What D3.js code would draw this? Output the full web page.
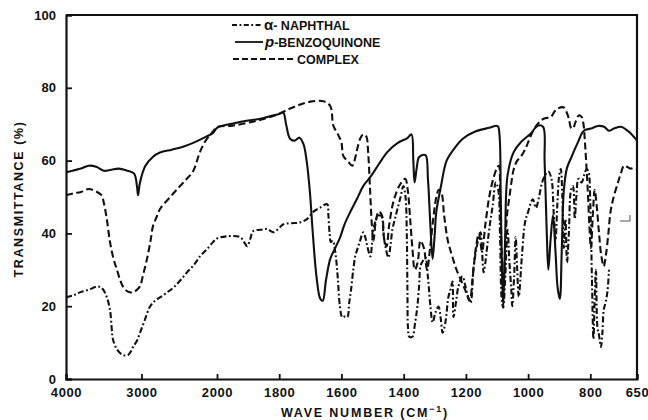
<!DOCTYPE html>
<html>
<head>
<meta charset="utf-8">
<script src="https://cdn.jsdelivr.net/npm/d3@7"></script>
<style>
  body { margin: 0; background: #fff; }
  text { font-family: "Liberation Sans", Arial, sans-serif; fill: #111; }
</style>
</head>
<body>
<div id="chart"></div>
<script>
// wave number (cm-1), transmittance (%)
var naphthol = [[4000,22.4],[3900,23],[3815,23.8],[3700,24.5],[3590,25.4],[3540,25.2],[3510,24.6],[3460,22.5],[3417,19],[3395,14],[3377,10.8],[3320,8],[3245,6.6],[3180,6.6],[3140,7.6],[3113,8.8],[3060,10.5],[3020,12.7],[2960,16],[2887,19.9],[2820,21.5],[2755,22.4],[2660,23.8],[2583,25],[2490,27],[2397,29.3],[2300,31.5],[2225,33.7],[2140,35.5],[2053,37.6],[2000,38.6],[1968,39.2],[1926,39],[1912,37.5],[1903,36.5],[1893,38.5],[1884,40.6],[1860,41],[1839,41.2],[1819,40.3],[1800,41.5],[1787,42.5],[1760,42.8],[1733,43],[1710,44],[1691,45.9],[1670,47],[1646,48],[1642,45],[1638,40],[1634,37.6],[1628,38],[1620,35],[1612,28],[1605,20],[1597,16.9],[1588,17.2],[1581,17],[1575,21],[1569,24.6],[1562,30],[1555,34],[1549,35.6],[1540,38],[1530,40.3],[1522,38.5],[1517,36.5],[1507,33.7],[1502,37],[1497,41.2],[1490,43.5],[1484,44.8],[1472,44.8],[1465,40],[1459,36.5],[1449,33.4],[1442,37],[1436,41.2],[1428,44],[1420,46.7],[1410,50],[1401,53],[1394,50],[1390,40],[1388,25],[1386,14],[1382,11.6],[1372,11.6],[1364,15],[1356,19.9],[1350,26],[1346,31],[1338,32.5],[1330,33.4],[1322,28],[1314,20],[1307,15.5],[1298,18.2],[1288,19.9],[1280,16],[1275,12.7],[1266,15.5],[1256,22.6],[1248,25],[1243,26.8],[1240,17],[1232,21],[1224,25.4],[1211,28.2],[1203,26],[1195,23.2],[1185,21],[1175,31],[1162,37.6],[1153,40.3],[1148,35],[1143,29.3],[1136,33],[1130,37.6],[1122,43],[1114,47.5],[1104,54],[1096,52],[1090,38],[1085,22],[1080,19.6],[1074,27],[1066,41],[1060,32],[1054,24.6],[1051,20],[1045,28],[1040,39],[1035,30],[1030,22.6],[1020,33.7],[1010,43],[1000,45.9],[985,49.4],[975,47],[965,50],[955,54],[945,56],[935,57],[925,55],[918,46],[912,38],[906,48],[900,56],[895,57.7],[890,50],[885,36],[880,44],[875,32],[869,40],[862,52],[856,53],[850,44],[845,50],[838,55],[828,54],[820,56],[812,57.7],[806,57],[800,48],[795,28],[790,11],[786,22],[782,30],[777,14],[772,12],[766,8.8],[761,13],[757,19],[751,21],[745,24],[740,30]];

var benzoquinone = [[4000,56.8],[3900,57.3],[3800,57.8],[3700,58.6],[3600,58.3],[3500,57.2],[3400,57.5],[3300,57.8],[3200,57.3],[3100,56.5],[3060,53],[3046,50.5],[3020,54],[2950,58.5],[2850,61],[2755,62.2],[2600,63],[2450,63.8],[2300,65],[2150,66.5],[2053,67.6],[2000,69],[1942,70.3],[1900,71],[1861,71.5],[1830,72.2],[1800,72.8],[1787,73.2],[1778,70],[1765,66],[1750,65.5],[1735,66.3],[1722,64.5],[1712,60],[1702,52],[1692,40],[1680,28],[1668,22],[1660,21.5],[1650,27],[1636,33],[1620,36],[1604,39],[1590,42.5],[1571,46],[1550,49.5],[1530,53],[1507,55.5],[1480,59],[1452,62.4],[1420,64.8],[1388,66.2],[1375,67.2],[1369,60],[1365,54],[1358,58],[1350,61],[1330,61.5],[1322,55],[1314,42],[1307,33],[1300,40],[1295,46],[1280,53],[1262,60],[1240,63],[1210,66],[1170,68],[1125,69],[1098,69.5],[1092,67],[1088,50],[1084,30],[1080,20],[1074,38],[1066,56],[1046,62.4],[1024,65],[992,67.4],[969,69.6],[952,69.3],[947,60],[940,40],[935,30],[928,38],[920,45],[912,35],[905,25],[898,22],[892,35],[885,52],[875,58],[863,60.5],[840,65],[821,68.2],[798,68.8],[776,69.5],[756,69.3],[740,68.2],[724,68.8],[701,69.3],[685,68.5],[669,67.4],[650,65.5]];

var complex = [[4000,50.5],[3900,51],[3800,51.4],[3700,52.2],[3600,51.5],[3530,50.5],[3500,48.5],[3460,44],[3417,37.6],[3370,33],[3325,30],[3280,27],[3245,25.4],[3180,24],[3113,23.8],[3060,24.5],[3020,25.5],[2980,28.5],[2927,33],[2880,38],[2848,42],[2800,44.5],[2755,46.7],[2620,50],[2490,53],[2400,55],[2318,57],[2225,62.4],[2150,65.5],[2093,67],[2053,68],[2000,69.2],[1950,69.6],[1884,70.7],[1829,72],[1797,73],[1765,74.3],[1733,75.4],[1700,76.2],[1658,76.3],[1636,75],[1626,69.6],[1610,67],[1600,65],[1594,61.3],[1578,59.7],[1565,58.6],[1555,61],[1549,63.3],[1540,66],[1530,67.2],[1520,66.6],[1514,62],[1508,52],[1502,42],[1497,38],[1490,43],[1480,46],[1470,45],[1462,38],[1455,36.5],[1447,42],[1435,48],[1420,52],[1407,54],[1395,55],[1387,52],[1380,45],[1372,36],[1364,30],[1355,32],[1346,38],[1335,36],[1325,30],[1315,36],[1305,44],[1295,50],[1287,52],[1278,51],[1270,45],[1258,38],[1245,34],[1230,30],[1215,27],[1200,24],[1188,21.5],[1178,28],[1168,36],[1158,40],[1148,35],[1138,42],[1125,50],[1112,55],[1100,58],[1094,58.6],[1090,50],[1085,35],[1080,26],[1075,32],[1068,45],[1060,50],[1052,55],[1046,57.7],[1035,60],[1024,61],[1010,63],[1000,65],[985,68],[970,70],[950,71.5],[927,72],[915,73.5],[905,74.3],[885,74.6],[875,73],[869,71.5],[862,69],[856,68.8],[848,70.5],[837,72.4],[828,72],[822,70],[818,66],[814,60.5],[808,51.4],[803,42],[798,36],[792,45],[786,52],[780,48],[772,40],[765,34],[757,31],[750,34],[742,40],[735,46],[725,50],[711,54],[700,57],[692,58.6],[680,58.2],[670,57.8],[660,58],[650,57.7]];

var xTicks = [4000, 3000, 2000, 1800, 1600, 1400, 1200, 1000, 800, 650];
var yTicks = [0, 20, 40, 60, 80, 100];

var width = 648, height = 420;

var svg = d3.select("#chart").append("svg")
    .attr("width", width)
    .attr("height", height);

// grating change at 2000 cm-1 -> two linear pieces
var x = d3.scaleLinear().domain([4000, 2000, 650]).range([66, 217, 637]);
var y = d3.scaleLinear().domain([0, 100]).range([379, 15]);

var xAxis = svg.append("g")
    .attr("transform", "translate(0," + y(0) + ")")
    .call(d3.axisBottom(x).tickValues(xTicks).tickSize(-5).tickPadding(9).tickFormat(d3.format("d")));
var yAxis = svg.append("g")
    .attr("transform", "translate(" + x(4000) + ",0)")
    .call(d3.axisLeft(y).tickValues(yTicks).tickSize(-6).tickPadding(10));

[xAxis, yAxis].forEach(function (a) {
    a.select(".domain").attr("stroke", "#111").attr("stroke-width", 2.2);
    a.selectAll(".tick line").attr("stroke", "#111").attr("stroke-width", 1.8);
    a.selectAll(".tick text")
        .style("font-family", "'Liberation Sans', Arial, sans-serif")
        .style("font-size", "13px")
        .style("font-weight", "bold")
        .attr("fill", "#111");
});
xAxis.selectAll(".tick text").attr("letter-spacing", "0.6px");

// top and right frame
svg.append("path")
    .attr("d", "M" + x(4000) + "," + y(100) + "H" + x(650) + "V" + y(0))
    .attr("fill", "none")
    .attr("stroke", "#111")
    .attr("stroke-width", 2.2);

var line = d3.line()
    .x(function (d) { return x(d[0]); })
    .y(function (d) { return y(d[1]); })
    .curve(d3.curveCatmullRom.alpha(0.5));

var series = [
    { data: benzoquinone, dash: null },
    { data: complex, dash: "7,3.5" },
    { data: naphthol, dash: "6,2.5,1.8,2.5" }
];

svg.selectAll(".spec")
    .data(series)
    .enter().append("path")
    .attr("class", "spec")
    .attr("d", function (d) { return line(d.data); })
    .attr("fill", "none")
    .attr("stroke", "#111")
    .attr("stroke-width", 2.1)
    .attr("stroke-linejoin", "round")
    .attr("stroke-dasharray", function (d) { return d.dash; });

// little mark on right side
svg.append("path")
    .attr("d", "M620,221H630V215")
    .attr("fill", "none")
    .attr("stroke", "#555")
    .attr("stroke-width", 1);

// legend
var legend = [
    { sym: "\u03b1", name: "- NAPHTHAL", dash: "5,2.5,1.8,2.5", y: 25, x0: 232, x1: 262 },
    { sym: "p", name: "-BENZOQUINONE", dash: null, y: 42, x0: 235, x1: 263 },
    { sym: "", name: "COMPLEX", dash: "6,3", y: 59, x0: 233, x1: 294 }
];
var lg = svg.selectAll(".lg").data(legend).enter().append("g").attr("class", "lg");
lg.append("line")
    .attr("x1", function (d) { return d.x0; })
    .attr("x2", function (d) { return d.x1; })
    .attr("y1", function (d) { return d.y; })
    .attr("y2", function (d) { return d.y; })
    .attr("stroke", "#111")
    .attr("stroke-width", 1.8)
    .attr("stroke-dasharray", function (d) { return d.dash; });
var lt = lg.append("text")
    .attr("x", function (d) { return d.sym ? d.x1 + 2 : d.x1 + 3; })
    .attr("y", function (d) { return d.y + 5; })
    .style("font-size", "12.5px")
    .style("font-weight", "bold");
lt.append("tspan")
    .text(function (d) { return d.sym; })
    .style("font-size", "15px")
    .style("font-style", function (d) { return d.sym === "p" ? "italic" : "normal"; });
lt.append("tspan")
    .text(function (d) { return d.name; });

// axis titles
svg.append("text")
    .attr("transform", "translate(23,199) rotate(-90)")
    .attr("text-anchor", "middle")
    .attr("letter-spacing", "1.6px")
    .style("font-size", "12.5px")
    .style("font-weight", "bold")
    .text("TRANSMITTANCE (%)");

var xt = svg.append("text")
    .attr("x", 365)
    .attr("y", 417)
    .attr("text-anchor", "middle")
    .attr("letter-spacing", "1.8px")
    .style("font-size", "12.5px")
    .style("font-weight", "bold");
xt.append("tspan").text("WAVE NUMBER (CM");
xt.append("tspan").attr("dy", -5).style("font-size", "9px").text("\u22121");
xt.append("tspan").attr("dy", 5).text(")");
</script>
</body>
</html>
